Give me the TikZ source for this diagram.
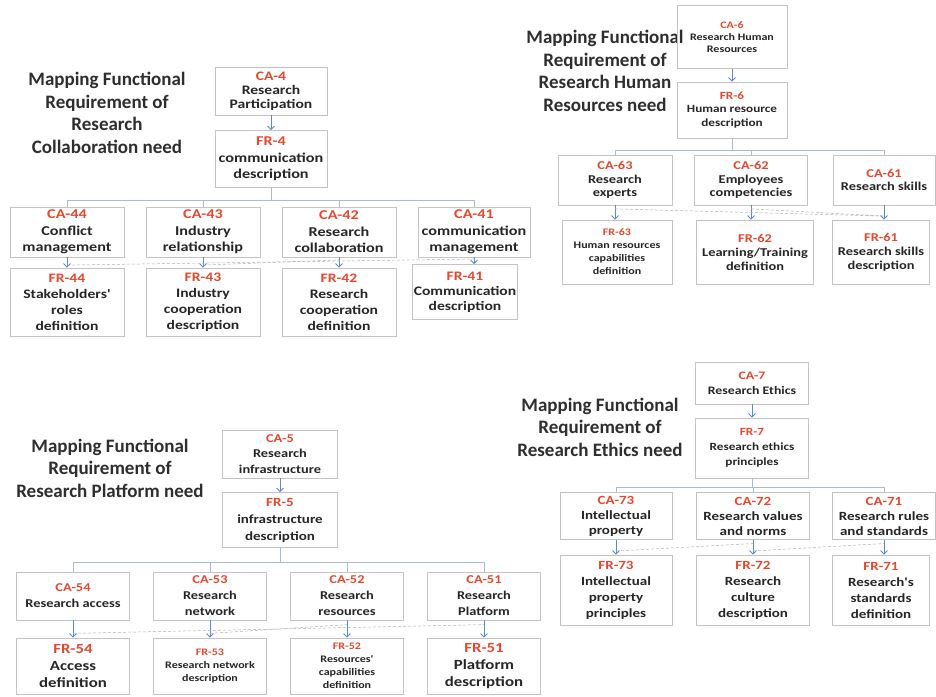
\documentclass[tikz,border=0pt]{standalone}
\usepackage{fontspec}
\setmainfont{Carlito}
\newfontfamily\boxfont{Carlito}[FakeStretch=1.2]
\usepackage{xcolor}
\usetikzlibrary{arrows.meta}
\definecolor{idred}{HTML}{E5482F}
\definecolor{boxgray}{HTML}{C4C4C4}
\definecolor{busblue}{HTML}{A9BCD0}
\definecolor{arrblue}{HTML}{5A8AD0}
\definecolor{titlegray}{HTML}{2E2E2E}
\newcommand\idl[1]{\textcolor{idred}{#1}}
\tikzset{
    mbox/.style={draw=boxgray,line width=.6pt,align=center,inner sep=1pt,text=black!85},
    sz/.style 2 args={minimum width=#1pt,minimum height=#2pt},
    txt/.style 2 args={font=\boxfont\bfseries\fontsize{#1}{#2}\selectfont},
    ttl/.style={align=center,text=titlegray,font=\bfseries\fontsize{19}{22.5}\selectfont},
    bus/.style={draw=busblue,line width=.8pt},
    arr/.style={draw=arrblue,line width=.9pt,-{Straight Barb[length=3.5pt,width=7pt]}},
    dsh/.style={draw=black!30,line width=.5pt,dash pattern=on 3pt off 2pt}
}
\begin{document}
\begin{tikzpicture}[x=1pt,y=-1pt]
\fill[white] (0,0) rectangle (936,696);
\useasboundingbox (0,0) rectangle (936,696);
% collaboration
\node[ttl] (t4) at (107,113) {Mapping Functional\\Requirement of\\Research\\Collaboration need};
\node[mbox,sz={112}{48},txt={13}{14}] (ca4) at (271,91) {\idl{CA-4}\\Research\\Participation};
\node[mbox,sz={112}{57},txt={13.5}{16.5}] (fr4) at (271,159) {\idl{FR-4}\\communication\\description};
\draw[arr] (ca4) -- (fr4);
\draw[bus] (fr4.south) -- ++(0,12.5) coordinate (b4);
\foreach \n/\x/\ca/\fr in {44/67/{Conflict\\management}/{Stakeholders'\\roles\\definition},
        43/203/{Industry\\relationship}/{Industry\\cooperation\\description},
        42/339/{Research\\collaboration}/{Research\\cooperation\\definition}}
    \node[mbox,sz={114}{50},txt={13.5}{16.5}] (ca\n) at (\x,232) {\idl{CA-\n}\\\ca}
        node[mbox,sz={114}{68},txt={13}{16}] (fr\n) at (\x,302) {\idl{FR-\n}\\\fr};
\node[mbox,sz={112}{50},txt={13.5}{16.5}] (ca41) at (474,232) {\idl{CA-41}\\communication\\management};
\node[mbox,sz={105}{55},txt={13}{15}] (fr41) at (465,292) {\idl{FR-41}\\Communication\\description};
\foreach \n in {44,43,42,41}{
    \draw[bus] (b4) -| (ca\n.north);
    \draw[arr] (ca\n.south) -- coordinate[pos=.25] (u\n) coordinate[pos=.75] (l\n) (ca\n.south |- fr\n.north);
}
\draw[dsh] (l44) -- (u41);
\draw[dsh] (l43) -- (u42);
% human resources
\node[ttl] (t6) at (605,71) {Mapping Functional\\Requirement of\\Research Human\\Resources need};
\node[mbox,sz={110}{63},txt={10}{12}] (ca6) at (732,37) {\idl{CA-6}\\Research Human\\Resources};
\node[mbox,sz={110}{56},txt={11}{13.5}] (fr6) at (732,110) {\idl{FR-6}\\Human resource\\description};
\draw[arr] (ca6) -- (fr6);
\draw[bus] (fr6.south) -- ++(0,12) coordinate (b6);
\foreach \n/\x/\y/\w/\v/\fs/\fb/\ca/\fr in {63/615/617/114/110/10/13/{Research\\experts}/{Human resources\\capabilities\\definition},
        62/751/755/113/117/12/14/{Employees\\competencies}/{Learning/Training\\definition},
        61/884/881/102/97/12/14/{Research skills}/{Research skills\\description}}{
    \node[mbox,sz={\w}{50},txt={12}{13.5}] (ca\n) at (\x,180) {\idl{CA-\n}\\\ca};
    \node[mbox,sz={\v}{64},txt={\fs}{\fb}] (fr\n) at (\y,252) {\idl{FR-\n}\\\fr};
    \draw[bus] (b6) -| (ca\n.north);
    \draw[arr] (ca\n.south) -- coordinate[pos=.25] (u\n) coordinate[pos=.75] (l\n) (ca\n.south |- fr\n.north);
}
\draw[dsh] (u63) -- (l61);
\draw[dsh] (u62) -- (l61);
% platform
\node[ttl] (t5) at (110,468) {Mapping Functional\\Requirement of\\Research Platform need};
\node[mbox,sz={115}{48},txt={12}{15.5}] (ca5) at (280,454) {\idl{CA-5}\\Research\\infrastructure};
\node[mbox,sz={115}{55},txt={12.5}{17}] (fr5) at (280,520) {\idl{FR-5}\\infrastructure\\description};
\draw[arr] (ca5) -- (fr5);
\draw[bus] (fr5.south) -- ++(0,15) coordinate (b5);
\foreach \n/\x/\fs/\fb/\ca/\fr in {54/73/14/17/{Research access}/{Access\\definition},
        53/210/10/13/{Research\\network}/{Research network\\description},
        52/347/10/13/{Research\\resources}/{Resources'\\capabilities\\definition},
        51/484/14/17/{Research\\Platform}/{Platform\\description}}{
    \node[mbox,sz={113}{48},txt={12}{16}] (ca\n) at (\x,596) {\idl{CA-\n}\\\ca};
    \node[mbox,sz={113}{56},txt={\fs}{\fb}] (fr\n) at (\x,666) {\idl{FR-\n}\\\fr};
    \draw[bus] (b5) -| (ca\n.north);
    \draw[arr] (ca\n.south) -- coordinate[pos=.25] (u\n) coordinate[pos=.75] (l\n) (ca\n.south |- fr\n.north);
}
\draw[dsh] (l54) -- (u51);
\draw[dsh] (l53) -- (u52);
% ethics
\node[ttl] (t7) at (600,427) {Mapping Functional\\Requirement of\\Research Ethics need};
\node[mbox,sz={113}{42},txt={11.5}{15}] (ca7) at (752,383) {\idl{CA-7}\\Research Ethics};
\node[mbox,sz={113}{60},txt={11}{15}] (fr7) at (752,448) {\idl{FR-7}\\Research ethics\\principles};
\draw[arr] (ca7) -- (fr7);
\draw[bus] (fr7.south) -- ++(0,9) coordinate (b7);
\foreach \n/\x/\y/\w/\v/\ca/\fr in {73/616/616/112/112/{Intellectual\\property}/{Intellectual\\property\\principles},
        72/753/753/113/113/{Research values\\and norms}/{Research\\culture\\description},
        71/884/881/103/97/{Research rules\\and standards}/{Research's\\standards\\definition}}{
    \node[mbox,sz={\w}{47},txt={12.5}{15}] (ca\n) at (\x,516) {\idl{CA-\n}\\\ca};
    \node[mbox,sz={\v}{70},txt={12.5}{16}] (fr\n) at (\y,590) {\idl{FR-\n}\\\fr};
    \draw[bus] (b7) -| (ca\n.north);
    \draw[arr] (ca\n.south) -- coordinate[pos=.25] (u\n) coordinate[pos=.75] (l\n) (ca\n.south |- fr\n.north);
}
\draw[dsh] (l72) -- (u71);
\draw[dsh] (l73) -- (u72);
\end{tikzpicture}
\end{document}
